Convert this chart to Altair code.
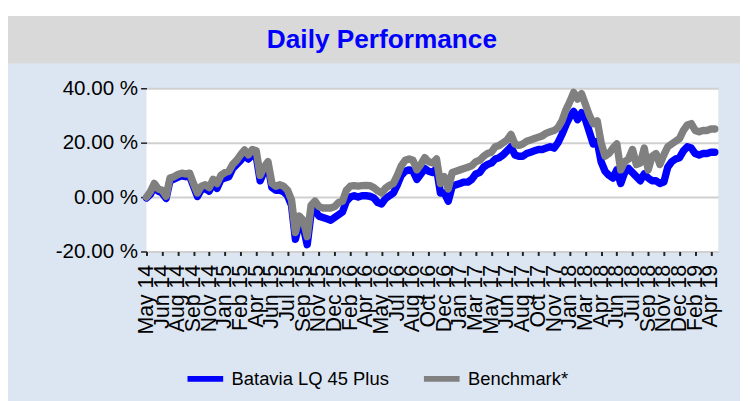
import altair as alt
import pandas as pd

TITLE = "Daily Performance"
SERIES = ["Batavia LQ 45 Plus", "Benchmark*"]
COLORS = ["#0000FF", "#808080"]
TICK_LABELS = [
    "May 14", "Jun 14", "Aug 14", "Sep 14", "Nov 14", "Jan 15", "Feb 15", "Apr 15",
    "Jun 15", "Jul 15", "Sep 15", "Nov 15", "Dec 15", "Feb 16", "Apr 16", "May 16",
    "Jul 16", "Aug 16", "Oct 16", "Dec 16", "Jan 17", "Mar 17", "May 17", "Jun 17",
    "Aug 17", "Oct 17", "Nov 17", "Jan 18", "Mar 18", "Apr 18", "Jun 18", "Jul 18",
    "Sep 18", "Nov 18", "Dec 18", "Feb 19", "Apr 19",
]
Y_TICKS = [-20, 0, 20, 40]

# sampled every quarter of a tick interval
FUND = [
    -0.3, 1, 4, 2.2, 1.5, -0.5, 6, 6.6, 7.3, 7.8,
    7.5, 7.8, 4, 0.2, 2.8, 3.2, 2.2, 5, 3.2, 6.5,
    7, 7.5, 10.5, 12, 13.5, 15.3, 14, 15.5, 15, 6,
    9.5, 11.5, 3.5, 2.5, 2.5, 2, 0.5, -3, -15.5, -9.5,
    -11, -17.5, -6, -5, -7, -7.5, -8, -8.5, -7.5, -6.5,
    -5.5, -1.5, 0, 0.5, 0, 0.5, 0.5, 0.3, -0.3, -2,
    -2.5, -0.5, 0.5, 1.5, 4.5, 8, 9.5, 10, 9.5, 6.5,
    8.5, 10.5, 9.5, 9, 10.5, 1.5, 1.5, -1.5, 4, 4.5,
    5, 5.5, 5.5, 6.5, 8.5, 9, 11, 12, 12.5, 14,
    14.5, 15.5, 17, 18.5, 15.5, 15, 15, 16, 16.5, 17,
    17.5, 17.5, 18, 18.5, 18, 20, 23, 26.5, 29.5, 31.5,
    28.5, 31, 28.5, 24, 19.5, 20.5, 13, 9.5, 8, 7,
    10, 5, 9, 10.5, 9, 7.5, 6, 8.5, 7, 6,
    6, 5, 5.5, 11, 13, 14, 14.5, 17, 18.5, 18,
    16, 15.5, 16, 16, 16.5, 16.5,
]
BENCH = [
    0, 2, 5, 3, 2.5, 0.3, 7, 7.5, 8.3, 8.8,
    8.5, 8.8, 5, 1.5, 4, 4.5, 3.5, 6.5, 5, 8,
    9, 9.5, 12, 13.5, 15.5, 17.3, 15.5, 17.5, 17, 8,
    11, 13, 5, 4, 4.5, 4, 2.5, -1, -13, -7,
    -8.5, -14.5, -3, -1.5, -3.5, -4, -4, -4, -3.5, -2,
    -1.5, 2.5, 4, 4.2, 4, 4.2, 4.3, 4.2, 3.5, 2.3,
    1.5, 3.3, 4.3, 5, 8, 11.5, 13.5, 14, 13.5, 10,
    12, 14.5, 13, 12.5, 14, 5, 7.5, 3, 9, 9.5,
    10, 10.5, 11, 11.5, 13, 13.5, 15, 16, 16.5, 18.5,
    19, 20, 21, 23, 19.5, 19, 19.5, 20.5, 21, 21.5,
    22, 22.5, 23.5, 24, 24.5, 25.5, 28, 32, 35, 38.5,
    36, 38, 34, 30, 27, 28, 20, 15, 16, 18,
    19.5, 10, 13, 14, 17.5, 12, 12.5, 18, 10, 15,
    16, 12, 15.5, 18.5, 19.5, 20.5, 21.5, 24.5, 26.5, 27,
    24.5, 24, 24.5, 24.5, 25, 25,
]
STEP = 0.25

rows = []
for name, vals in zip(SERIES, [FUND, BENCH]):
    for i, v in enumerate(vals):
        rows.append({"t": i * STEP, "value": v, "series": name})
df = pd.DataFrame(rows)

W, H = 578, 165
PAD = {"left": 140, "top": 79, "right": 22, "bottom": 149}
FONT = "Liberation Sans"

label_js = "[" + ",".join("'%s'" % s for s in TICK_LABELS) + "][datum.value]"

lines = alt.Chart(df).mark_line(
    strokeWidth=7.5, strokeCap="round", strokeJoin="round"
).encode(
    x=alt.X(
        "t:Q",
        scale=alt.Scale(domain=[0, 36.47], nice=False, zero=False),
        axis=alt.Axis(
            values=list(range(len(TICK_LABELS))), labelExpr=label_js, labelAngle=-90,
            labelOverlap=False, labelFlush=False, labelBound=False, grid=False,
            domain=False, tickColor="#222222", tickSize=4, tickWidth=2,
            labelPadding=9, labelFontSize=21.5, labelFont=FONT, labelColor="black",
            title=None,
        ),
    ),
    y=alt.Y(
        "value:Q",
        scale=alt.Scale(domain=[-20, 40], nice=False, zero=False),
        axis=alt.Axis(
            values=Y_TICKS,
            labelExpr="(datum.value < 0 ? '-' : '') + format(abs(datum.value), '.2f') + ' %'",
            grid=True, gridColor="#D0D0D0", gridWidth=2, domain=False,
            tickColor="#222222", tickSize=6, tickWidth=1.5, labelPadding=3,
            labelFontSize=20.8, labelFont=FONT, labelColor="black", title=None,
        ),
    ),
    color=alt.Color(
        "series:N",
        scale=alt.Scale(domain=SERIES, range=COLORS),
        legend=alt.Legend(
            title=None, orient="none", legendX=38, legendY=272, direction="horizontal",
            symbolType="stroke", symbolSize=1300, symbolStrokeWidth=6,
            labelFontSize=18.6, labelFont=FONT, labelColor="black", labelOffset=5,
            columnPadding=22, padding=0,
        ),
    ),
)

one = pd.DataFrame({"title": [TITLE]})
white = alt.Chart(one).mark_rect(color="white").encode(
    x=alt.value(-PAD["left"] - 10), x2=alt.value(W + PAD["right"] + 10),
    y=alt.value(-PAD["top"] - 10), y2=alt.value(-73),
)
band = alt.Chart(one).mark_rect(color="#D9D9D9").encode(
    x=alt.value(-PAD["left"]), x2=alt.value(W + PAD["right"] + 10),
    y=alt.value(-73), y2=alt.value(-25),
)
title = alt.Chart(one).mark_text(
    font=FONT, fontSize=26.5, fontWeight="bold", color="#0000FF",
    align="center", baseline="middle",
).encode(text="title:N", x=alt.value(238), y=alt.value(-49))

chart = alt.layer(white, band, title, lines).properties(
    width=W, height=H, padding=PAD,
    autosize=alt.AutoSizeParams(type="none"),
    background="#DCE6F2",
).configure_view(fill="white", strokeWidth=0)

chart.save("out.html", embed_options={"renderer": "svg", "actions": False})
